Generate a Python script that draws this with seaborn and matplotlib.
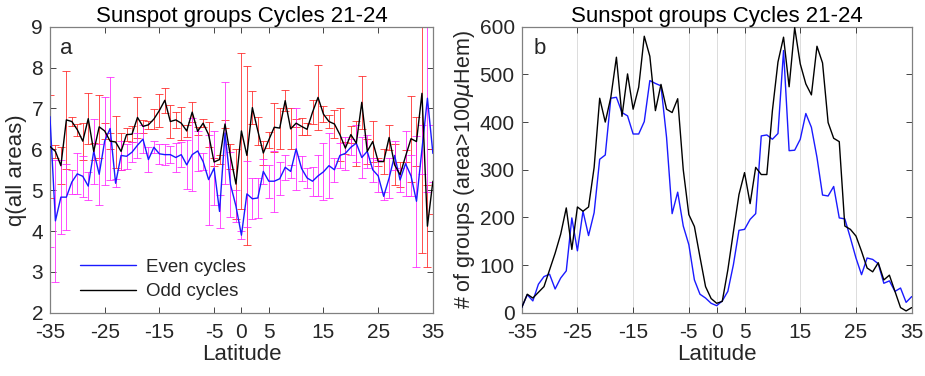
import numpy as np
import pandas as pd
import matplotlib
matplotlib.use("Agg")
import matplotlib.pyplot as plt
import seaborn as sns

lats = list(range(-35, 36))

# panel a: q (all areas)
q_even = [6.8, 4.25, 4.83, 4.83, 5.2, 5.4, 5.34, 5.1, 5.95, 5.39,
          6.2, 6.51, 5.17, 5.85, 5.83, 5.93, 6.1, 6.25, 5.75, 6.05,
          5.89, 5.87, 5.87, 5.8, 5.87, 5.62, 5.87, 5.96, 5.7, 5.26,
          5.54, 4.48, 6.4, 5.14, 4.61, 3.9, 4.91, 4.79, 4.81, 5.46,
          5.22, 5.22, 5.28, 5.56, 5.46, 6.01, 5.53, 5.3, 5.22, 5.35,
          5.45, 5.6, 5.5, 5.85, 5.9, 6.05, 6.15, 5.8, 5.95, 5.5,
          5.35, 4.85, 5.3, 5.85, 5.25, 5.65, 5.35, 4.73, 6.0, 7.25, 5.9]
q_odd = [6.07, 5.95, 5.6, 6.72, 6.68, 6.48, 6.2, 6.75, 5.95, 6.55,
         6.45, 6.2, 6.18, 5.95, 6.36, 6.37, 6.78, 6.56, 6.6, 6.74,
         6.95, 7.2, 6.68, 6.72, 6.64, 6.45, 6.91, 6.44, 6.64, 6.36,
         5.69, 5.75, 6.62, 5.83, 5.15, 6.45, 5.85, 7.02, 6.45, 5.91,
         6.23, 6.54, 6.52, 7.19, 6.5, 6.64, 6.56, 6.49, 6.91, 7.27,
         6.86, 6.68, 6.62, 6.36, 6.03, 6.36, 6.15, 7.15, 5.95, 6.19,
         5.7, 5.7, 6.29, 5.62, 5.38, 5.83, 6.26, 6.19, 7.37, 4.12, 5.22]
err_even = [3.2, 1.5, 0.9, 0.8, 0.3, 0.5, 0.5, 0.35, 0.8, 0.75,
            1.07, 1.26, 0.1, 0.35, 0.3, 0.25, 0.3, 0.35, 0.3, 0.15,
            0.25, 0.25, 0.2, 0.35, 0.3, 0.6, 0.9, 0.5, 0.2, 1.1,
            0.9, 0.4, 1.25, 0.8, 0.4, 0.1, 0.8, 0.5, 0.5, 0.3,
            0.4, 0.75, 0.4, 0.3, 0.15, 1.0, 0.3, 0.25, 0.35, 0.5,
            0.7, 0.8, 0.3, 0.3, 0.4, 0.2, 0.45, 0.5, 0.4, 0.3,
            0.4, 0.1, 0.5, 0.35, 0.3, 0.8, 0.5, 1.6, 0.6, 2.3, 0.7]
err_odd = [1.25, 0.15, 0.45, 1.2, 0.1, 0.15, 0.45, 0.62, 0.2, 0.77,
           0.2, 0.2, 0.64, 0.45, 0.15, 0.2, 0.5, 0.15, 0.1, 0.25,
           0.4, 0.3, 0.4, 0.2, 0.4, 0.15, 0.25, 0.1, 0.1, 0.3,
           0.1, 0.1, 0.1, 0.3, 0.85, 1.9, 2.2, 0.4, 0.35, 0.3,
           0.2, 0.6, 0.5, 0.25, 0.5, 0.1, 0.2, 0.15, 0.3, 0.8,
           0.2, 0.15, 0.35, 0.65, 0.15, 0.2, 0.55, 0.65, 0.3, 0.5,
           0.1, 0.3, 0.3, 0.5, 0.3, 0.15, 1.05, 0.6, 3.9, 1.0, 0.8]

# panel b: number of groups with area > 100 muHem
n_even = [11, 38, 25, 60, 76, 81, 50, 73, 88, 199,
          130, 213, 162, 210, 322, 331, 450, 452, 420, 413,
          375, 375, 401, 487, 481, 476, 368, 208, 253, 182,
          143, 69, 39, 31, 20, 15, 25, 45, 101, 173,
          175, 196, 208, 371, 373, 364, 376, 550, 340, 341,
          364, 418, 389, 326, 247, 245, 265, 199, 197, 157,
          115, 80, 115, 112, 103, 62, 67, 45, 52, 22, 34]
n_odd = [11, 39, 31, 43, 55, 90, 125, 165, 220, 133,
         222, 213, 222, 305, 450, 400, 452, 536, 412, 501,
         427, 473, 580, 538, 424, 479, 427, 420, 449, 300,
         206, 181, 117, 55, 30, 20, 24, 90, 170, 248,
         294, 229, 305, 290, 290, 424, 526, 578, 474, 598,
         522, 480, 457, 559, 524, 399, 366, 359, 182, 175,
         161, 129, 94, 86, 105, 69, 79, 45, 11, 4, 11]

xticks = [-35, -25, -15, -5, 0, 5, 15, 25, 35]
title = "Sunspot groups Cycles 21-24"

sns.set_theme(style="white")
plt.rcParams["font.family"] = ["Liberation Sans", "DejaVu Sans"]
plt.rcParams.update({
    "xtick.direction": "in", "ytick.direction": "in",
    "xtick.top": True, "ytick.right": True,
    "xtick.bottom": True, "ytick.left": True,
    "xtick.major.size": 4, "ytick.major.size": 4,
    "xtick.major.width": 0.6, "ytick.major.width": 0.6,
    "xtick.color": "#262626", "ytick.color": "#262626",
    "axes.edgecolor": "#808080", "axes.linewidth": 0.9,
    "mathtext.fontset": "dejavusans",
})

df_q = pd.DataFrame({
    "lat": lats * 2,
    "q": q_even + q_odd,
    "cycles": ["Even cycles"] * len(lats) + ["Odd cycles"] * len(lats),
})
df_n = pd.DataFrame({
    "lat": lats * 2,
    "n": n_even + n_odd,
    "cycles": ["Even cycles"] * len(lats) + ["Odd cycles"] * len(lats),
})
pal = {"Even cycles": "#1a1aff", "Odd cycles": "black"}

fig = plt.figure(figsize=(9.25, 3.76), dpi=100)
ax1 = fig.add_axes([0.054, 0.168, 0.414, 0.761])
ax2 = fig.add_axes([0.564, 0.168, 0.4216, 0.761])

# panel a
ax1.errorbar(lats, q_odd, yerr=err_odd, fmt="none", ecolor="#ff2020",
             elinewidth=0.7, capsize=3, capthick=0.7, alpha=0.8, zorder=1)
ax1.errorbar(lats, q_even, yerr=err_even, fmt="none", ecolor="#ff20ff",
             elinewidth=0.7, capsize=3, capthick=0.7, alpha=0.8, zorder=1)
sns.lineplot(data=df_q, x="lat", y="q", hue="cycles", palette=pal,
             linewidth=1.0, ax=ax1, zorder=3)
ax1.set_xlim(-35, 35)
ax1.set_ylim(2, 9)
ax1.set_xticks(xticks)
ax1.set_xticklabels([str(t) for t in xticks])
ax1.set_yticks(range(2, 10))
ax1.tick_params(axis="x", labelsize=15, pad=7)
ax1.tick_params(axis="y", labelsize=15, pad=5)
ax1.set_xlabel("Latitude", fontsize=16, color="#262626", labelpad=2)
ax1.set_ylabel("q(all areas)", fontsize=16, color="#262626", labelpad=3)
ax1.set_title(title, fontsize=16, color="black", pad=3)
ax1.text(0.025, 0.96, "a", transform=ax1.transAxes, fontsize=16,
         va="top", ha="left")
ax1.legend(frameon=False, loc="lower left", bbox_to_anchor=(0.035, -0.015),
           fontsize=13.5, handlelength=3.0, handletextpad=0.5,
           labelspacing=0.4)

# panel b
sns.lineplot(data=df_n, x="lat", y="n", hue="cycles", palette=pal,
             linewidth=1.0, ax=ax2, legend=False, zorder=3)
ax2.set_xlim(-35, 35)
ax2.set_ylim(0, 600)
ax2.set_xticks(xticks)
ax2.set_xticklabels([str(t) for t in xticks])
ax2.set_yticks(range(0, 601, 100))
ax2.grid(axis="x", color="#dcdcdc", linewidth=0.7)
ax2.tick_params(axis="x", labelsize=15, pad=7)
ax2.tick_params(axis="y", labelsize=15, pad=5)
ax2.set_xlabel("Latitude", fontsize=16, color="#262626", labelpad=2)
ax2.set_ylabel(r"# of groups (area>100$\mu$Hem)", fontsize=15.5,
               color="#262626", labelpad=2)
ax2.set_title(title, fontsize=16, color="black", pad=3)
ax2.text(0.03, 0.96, "b", transform=ax2.transAxes, fontsize=16,
         va="top", ha="left")

fig.savefig("out.png", dpi=100)
